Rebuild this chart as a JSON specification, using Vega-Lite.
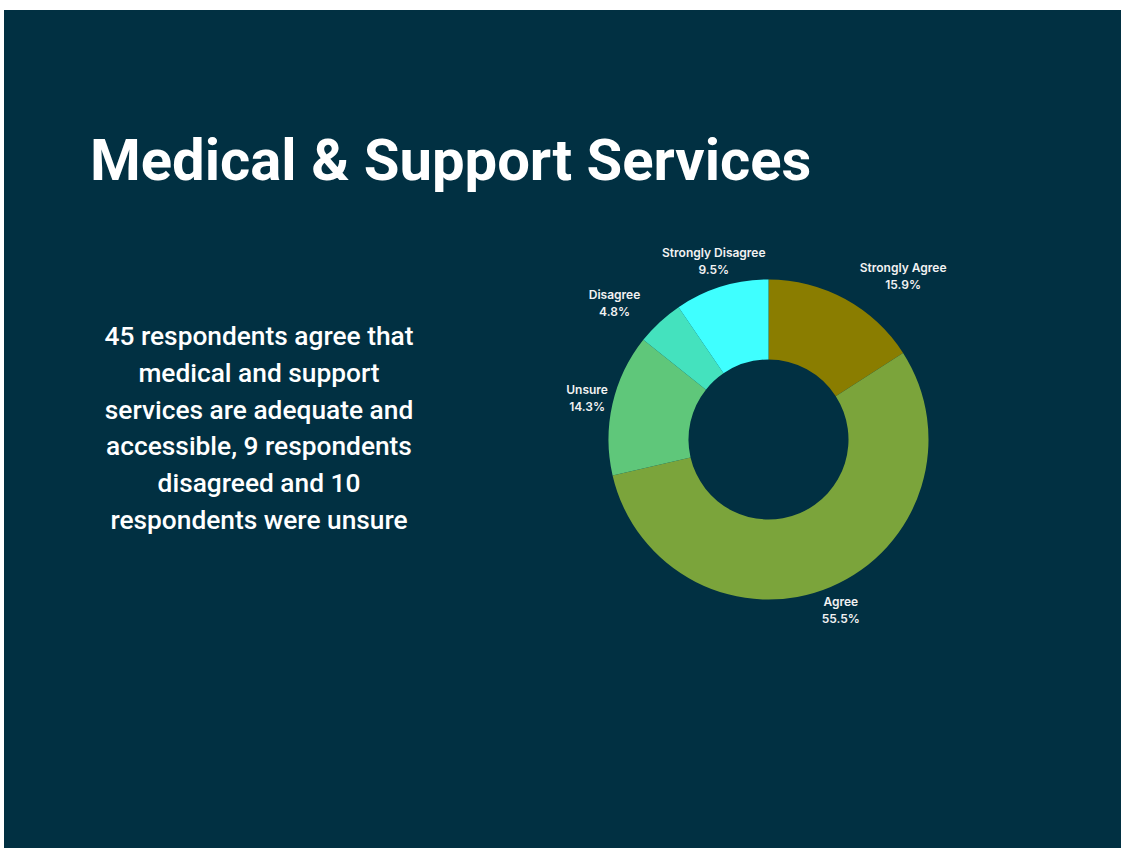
{
  "$schema": "https://vega.github.io/schema/vega-lite/v6.json",
  "width": 1121,
  "height": 848,
  "autosize": {"type": "fit", "contains": "padding"},
  "padding": {"left": 4, "top": 10, "right": 0, "bottom": 0},
  "background": "#ffffff",
  "config": {"view": {"stroke": null}},
  "datasets": {
    "responses": [
      {"label": "Strongly Agree", "pct": 15.9},
      {"label": "Agree", "pct": 55.5},
      {"label": "Unsure", "pct": 14.3},
      {"label": "Disagree", "pct": 4.8},
      {"label": "Strongly Disagree", "pct": 9.5}
    ],
    "heading": [{"text": "Medical & Support Services"}],
    "note": [{"text": "45 respondents agree that\nmedical and support\nservices are adequate and\naccessible, 9 respondents\ndisagreed and 10\nrespondents were unsure"}]
  },
  "layer": [
    {
      "data": {"values": [{"panel": "background"}]},
      "mark": {"type": "rect", "color": "#013042"},
      "encoding": {}
    },
    {
      "data": {"name": "heading"},
      "mark": {"type": "text", "align": "left", "baseline": "alphabetic", "font": "Roboto", "fontWeight": "bold", "fontSize": 58, "color": "#ffffff", "x": 86, "y": 170},
      "encoding": {"text": {"field": "text", "type": "nominal"}}
    },
    {
      "data": {"name": "note"},
      "mark": {"type": "text", "align": "center", "baseline": "alphabetic", "font": "Roboto", "fontWeight": 500, "fontSize": 26.3, "lineHeight": 36.8, "lineBreak": "\n", "color": "#ffffff", "x": 255, "y": 335},
      "encoding": {"text": {"field": "text", "type": "nominal"}}
    },
    {
      "data": {"name": "responses"},
      "transform": [
        {"calculate": "indexof(['Strongly Agree','Agree','Unsure','Disagree','Strongly Disagree'], datum.label)", "as": "rank"}
      ],
      "mark": {"type": "arc", "innerRadius": 80, "outerRadius": 160, "x": 764.5, "y": 429.5},
      "encoding": {
        "theta": {"field": "pct", "type": "quantitative", "stack": true, "scale": {"domain": [0, 100]}},
        "order": {"field": "rank", "type": "quantitative"},
        "color": {
          "field": "label",
          "type": "nominal",
          "scale": {
            "domain": ["Strongly Agree", "Agree", "Unsure", "Disagree", "Strongly Disagree"],
            "range": ["#8a7d00", "#7ba43b", "#5fc77a", "#44e2be", "#3fffff"]
          },
          "legend": null
        }
      }
    },
    {
      "data": {"name": "responses"},
      "transform": [
        {"calculate": "indexof(['Strongly Agree','Agree','Unsure','Disagree','Strongly Disagree'], datum.label)", "as": "rank"},
        {"stack": "pct", "groupby": [], "sort": [{"field": "rank", "order": "ascending"}], "as": ["s0", "s1"]},
        {"calculate": "(datum.s0 + datum.s1) / 2", "as": "mid"},
        {"calculate": "datum.label + '\\n' + format(datum.pct / 100, '.1%')", "as": "txt"},
        {"filter": "datum.label != 'Strongly Agree' && datum.label != 'Disagree'"}
      ],
      "mark": {"type": "text", "radius": 186, "dy": -8.5, "x": 764.5, "y": 429.5, "font": "Inter", "fontSize": 12, "fontWeight": 600, "lineHeight": 17, "lineBreak": "\n", "baseline": "middle", "align": "center", "color": "#f2f2f2"},
      "encoding": {
        "theta": {"field": "mid", "type": "quantitative", "scale": {"domain": [0, 100]}},
        "text": {"field": "txt", "type": "nominal"}
      }
    },
    {
      "data": {"name": "responses"},
      "transform": [
        {"calculate": "indexof(['Strongly Agree','Agree','Unsure','Disagree','Strongly Disagree'], datum.label)", "as": "rank"},
        {"stack": "pct", "groupby": [], "sort": [{"field": "rank", "order": "ascending"}], "as": ["s0", "s1"]},
        {"calculate": "(datum.s0 + datum.s1) / 2", "as": "mid"},
        {"calculate": "datum.label + '\\n' + format(datum.pct / 100, '.1%')", "as": "txt"},
        {"filter": "datum.label == 'Strongly Agree'"}
      ],
      "mark": {"type": "text", "radius": 186, "dx": 45.5, "dy": -8.5, "x": 764.5, "y": 429.5, "font": "Inter", "fontSize": 12, "fontWeight": 600, "lineHeight": 17, "lineBreak": "\n", "baseline": "middle", "align": "center", "color": "#f2f2f2"},
      "encoding": {
        "theta": {"field": "mid", "type": "quantitative", "scale": {"domain": [0, 100]}},
        "text": {"field": "txt", "type": "nominal"}
      }
    },
    {
      "data": {"name": "responses"},
      "transform": [
        {"calculate": "indexof(['Strongly Agree','Agree','Unsure','Disagree','Strongly Disagree'], datum.label)", "as": "rank"},
        {"stack": "pct", "groupby": [], "sort": [{"field": "rank", "order": "ascending"}], "as": ["s0", "s1"]},
        {"calculate": "(datum.s0 + datum.s1) / 2", "as": "mid"},
        {"calculate": "datum.label + '\\n' + format(datum.pct / 100, '.1%')", "as": "txt"},
        {"filter": "datum.label == 'Disagree'"}
      ],
      "mark": {"type": "text", "radius": 186, "dx": -27.5, "dy": -8.5, "x": 764.5, "y": 429.5, "font": "Inter", "fontSize": 12, "fontWeight": 600, "lineHeight": 17, "lineBreak": "\n", "baseline": "middle", "align": "center", "color": "#f2f2f2"},
      "encoding": {
        "theta": {"field": "mid", "type": "quantitative", "scale": {"domain": [0, 100]}},
        "text": {"field": "txt", "type": "nominal"}
      }
    }
  ]
}
